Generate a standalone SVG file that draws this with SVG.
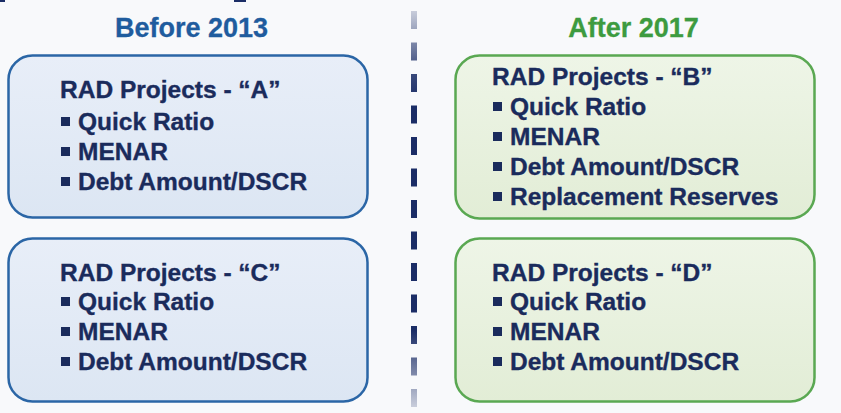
<svg xmlns="http://www.w3.org/2000/svg" width="841" height="413" viewBox="0 0 841 413">
  <defs>
    <linearGradient id="blueFill" x1="0" y1="0" x2="0" y2="1">
      <stop offset="0" stop-color="#e8eef8"/>
      <stop offset="1" stop-color="#dce6f3"/>
    </linearGradient>
    <linearGradient id="greenFill" x1="0" y1="0" x2="0" y2="1">
      <stop offset="0" stop-color="#eef5e7"/>
      <stop offset="1" stop-color="#e2edd6"/>
    </linearGradient>
    <linearGradient id="dividerFade" gradientUnits="userSpaceOnUse" x1="0" y1="0" x2="0" y2="413">
      <stop offset="0" stop-color="#1b2d66" stop-opacity="0.1"/>
      <stop offset="0.17" stop-color="#1b2d66" stop-opacity="0.85"/>
      <stop offset="0.25" stop-color="#1b2d66" stop-opacity="1"/>
      <stop offset="0.8" stop-color="#1b2d66" stop-opacity="1"/>
      <stop offset="1" stop-color="#1b2d66" stop-opacity="0.15"/>
    </linearGradient>
  </defs>
  <style>
    .heading { font-family: "Liberation Sans", Arial, sans-serif; font-weight: bold; font-size: 27px; text-anchor: middle; }
    .blue-h { fill: #1f5c9e; stroke: #1f5c9e; stroke-width: 0.3; }
    .green-h { fill: #3d9b3f; stroke: #3d9b3f; stroke-width: 0.3; }
    .box-blue { fill: url(#blueFill); stroke: #2b66a6; stroke-width: 2.5; }
    .box-green { fill: url(#greenFill); stroke: #5aa852; stroke-width: 2.5; }
    .item { font-family: "Liberation Sans", Arial, sans-serif; font-weight: bold; font-size: 24.5px; fill: #1a2b5c; stroke: #1a2b5c; stroke-width: 0.35; }
    .bullet { fill: #1a2b5c; }
  </style>

  <rect x="0" y="0" width="841" height="413" fill="#f8f9fb"/>
  <rect x="0" y="0" width="5" height="2" fill="#1b2d66"/>
  <rect x="234" y="0" width="12" height="2" fill="#1b2d66"/>

  <!-- column headings -->
  <text class="heading blue-h" x="191.5" y="37">Before 2013</text>
  <text class="heading green-h" x="633.5" y="37">After 2017</text>

  <!-- dashed divider -->
  <g id="connectors">
    <line x1="414" y1="11" x2="414" y2="408" stroke="url(#dividerFade)" stroke-width="6" stroke-dasharray="18 13.5"/>
  </g>

  <g id="node-a">
    <rect class="box-blue" x="8.5" y="55.5" width="359" height="162" rx="24"/>
    <text class="item" x="60" y="98">RAD Projects - “A”</text>
    <rect class="bullet" x="61" y="117" width="9" height="9"/>
    <text class="item" x="78" y="130">Quick Ratio</text>
    <rect class="bullet" x="61" y="147" width="9" height="9"/>
    <text class="item" x="78" y="160">MENAR</text>
    <rect class="bullet" x="61" y="177" width="9" height="9"/>
    <text class="item" x="78" y="190">Debt Amount/DSCR</text>
  </g>

  <g id="node-b">
    <rect class="box-green" x="455.5" y="55.5" width="359" height="163" rx="24"/>
    <text class="item" x="492" y="85">RAD Projects - “B”</text>
    <rect class="bullet" x="493" y="102" width="9" height="9"/>
    <text class="item" x="510" y="115">Quick Ratio</text>
    <rect class="bullet" x="493" y="132" width="9" height="9"/>
    <text class="item" x="510" y="145">MENAR</text>
    <rect class="bullet" x="493" y="162" width="9" height="9"/>
    <text class="item" x="510" y="175">Debt Amount/DSCR</text>
    <rect class="bullet" x="493" y="192" width="9" height="9"/>
    <text class="item" x="510" y="205">Replacement Reserves</text>
  </g>

  <g id="node-c">
    <rect class="box-blue" x="8.5" y="238.5" width="359" height="163" rx="24"/>
    <text class="item" x="60" y="281">RAD Projects - “C”</text>
    <rect class="bullet" x="61" y="297" width="9" height="9"/>
    <text class="item" x="78" y="310">Quick Ratio</text>
    <rect class="bullet" x="61" y="327" width="9" height="9"/>
    <text class="item" x="78" y="340">MENAR</text>
    <rect class="bullet" x="61" y="357" width="9" height="9"/>
    <text class="item" x="78" y="370">Debt Amount/DSCR</text>
  </g>

  <g id="node-d">
    <rect class="box-green" x="455.5" y="238.5" width="359" height="163" rx="24"/>
    <text class="item" x="492" y="281">RAD Projects - “D”</text>
    <rect class="bullet" x="493" y="297" width="9" height="9"/>
    <text class="item" x="510" y="310">Quick Ratio</text>
    <rect class="bullet" x="493" y="327" width="9" height="9"/>
    <text class="item" x="510" y="340">MENAR</text>
    <rect class="bullet" x="493" y="357" width="9" height="9"/>
    <text class="item" x="510" y="370">Debt Amount/DSCR</text>
  </g>
</svg>
